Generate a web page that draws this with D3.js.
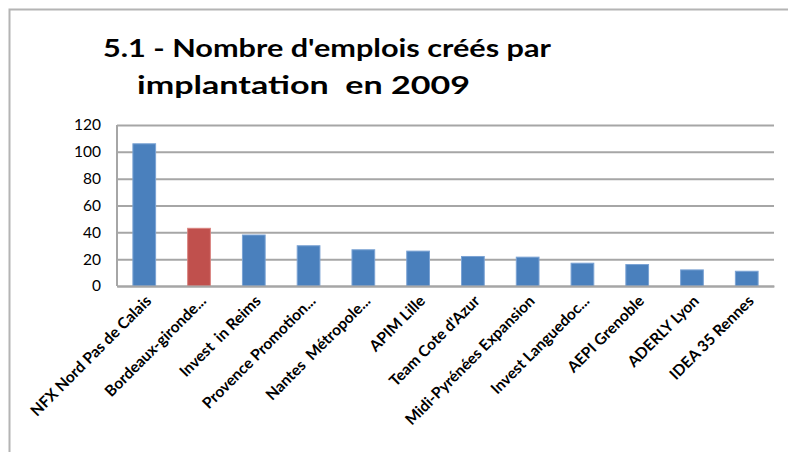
<!DOCTYPE html>
<html>
<head>
<meta charset="utf-8">
<script src="https://cdn.jsdelivr.net/npm/d3@7"></script>
<style>
  body { margin: 0; background: #fff; }
  svg { display: block; }
  text { font-family: Lato, "Open Sans", sans-serif; fill: #000; white-space: pre; }
</style>
</head>
<body>
<div id="chart"></div>
<script>
// data
const categories = [
  "NFX Nord Pas de Calais", "Bordeaux-gironde...", "Invest  in Reims",
  "Provence Promotion...", "Nantes  Métropole...", "APIM Lille",
  "Team Cote d'Azur", "Midi-Pyrénées Expansion", "Invest Languedoc...",
  "AEPI Grenoble", "ADERLY Lyon", "IDEA 35 Rennes"
];
const emplois = [106, 43, 38, 30, 27, 26, 22, 21.5, 17, 16, 12, 11];
const highlighted = ["Bordeaux-gironde..."];
const yTicks = [0, 20, 40, 60, 80, 100, 120];
const titleLines = ["5.1 - Nombre d'emplois créés par", "implantation  en 2009"];

const width = 788, height = 452;
const margin = { top: 125, right: 14, bottom: 166, left: 117 };

const svg = d3.select("#chart").append("svg")
  .attr("width", width).attr("height", height);

// chart frame (only top and left edges are visible)
svg.append("path")
  .attr("d", "M9.5," + height + "V9.5H" + width)
  .attr("fill", "none").attr("stroke", "#b4b4b4").attr("stroke-width", 2);

// title
svg.append("text").text(titleLines[0])
  .attr("x", 103).attr("y", 57)
  .attr("font-size", 25).attr("font-weight", "bold")
  .attr("textLength", 448).attr("lengthAdjust", "spacingAndGlyphs");
svg.append("text").text(titleLines[1])
  .attr("x", 137).attr("y", 94)
  .attr("font-size", 25).attr("font-weight", "bold")
  .attr("textLength", 333).attr("lengthAdjust", "spacingAndGlyphs");

const x = d3.scaleBand()
  .domain(categories)
  .range([margin.left, width - margin.right])
  .paddingInner(0.585).paddingOuter(0.29);

const y = d3.scaleLinear()
  .domain([0, 120])
  .range([height - margin.bottom, margin.top]);

// gridlines
const grid = svg.append("g")
  .attr("transform", "translate(" + margin.left + ",0)")
  .call(d3.axisLeft(y).tickValues(yTicks).tickSize(-(width - margin.right - margin.left)).tickFormat(""));
grid.select(".domain").remove();
grid.selectAll("line").attr("stroke", "#a6a6a6").attr("stroke-width", 2);

// y labels
const yAxis = svg.append("g")
  .attr("transform", "translate(" + margin.left + ",0)")
  .call(d3.axisLeft(y).tickValues(yTicks).tickSize(0).tickPadding(16));
yAxis.select(".domain").remove();
yAxis.selectAll("text").attr("font-size", 15.5).attr("font-family", "Lato, sans-serif").attr("fill", "#000");

// bars
svg.append("g").selectAll("rect")
  .data(categories)
  .join("rect")
  .attr("x", d => x(d))
  .attr("width", x.bandwidth())
  .attr("y", (d, i) => y(emplois[i]))
  .attr("height", (d, i) => y(0) - y(emplois[i]))
  .attr("fill", d => highlighted.includes(d) ? "#c0504d" : "#4a80bd")
  .attr("stroke", d => highlighted.includes(d) ? "#d9837f" : "#7ba3d4")
  .attr("stroke-width", 1);

// left axis line
svg.append("line")
  .attr("x1", margin.left).attr("x2", margin.left)
  .attr("y1", y(120)).attr("y2", y(0))
  .attr("stroke", "#a6a6a6").attr("stroke-width", 2);

// category labels
const xAxis = svg.append("g")
  .attr("transform", "translate(0," + y(0) + ")")
  .call(d3.axisBottom(x).tickSize(0).tickPadding(0));
xAxis.select(".domain").attr("stroke", "#a6a6a6").attr("stroke-width", 2);
xAxis.selectAll("text")
  .attr("font-size", 15.5).attr("font-weight", "bold")
  .attr("font-family", "Lato, sans-serif").attr("fill", "#000")
  .attr("text-anchor", "end")
  .attr("dy", 0)
  .attr("transform", "translate(8,16) rotate(-45)");
</script>
</body>
</html>
